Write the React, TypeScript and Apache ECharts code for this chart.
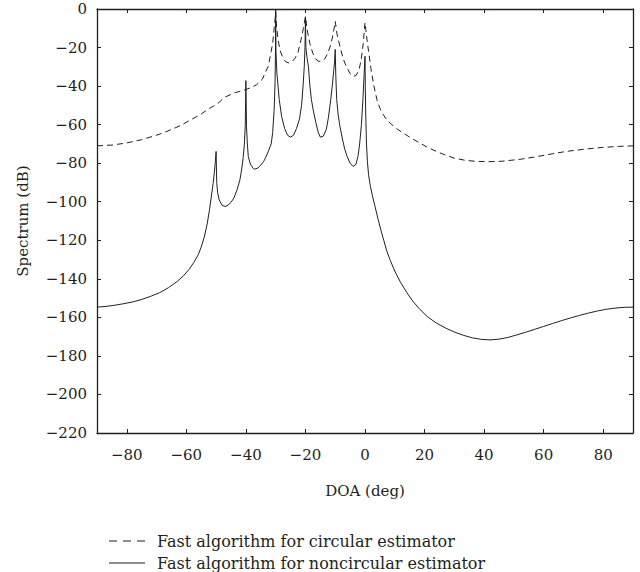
import React, { useEffect, useRef } from "react";
import * as echarts from "echarts";

const ncX = [
  -90, -87, -84, -81, -78, -75, -72, -69, -66, -63, -61, -59, -57.5, -56, -55, -54, -53, -52.2, -51.5, -51, -50.6, -50.3, -50,
  -49.8, -49.5, -49, -48, -47, -46, -45, -44, -43, -42, -41.4, -40.9, -40.5, -40.2, -40,
  -39.8, -39.5, -39.2, -38.5, -37.5, -37, -36, -35, -34, -33.5, -32.5, -31.5, -31, -30.5, -30.2, -30.05, -30,
  -29.9, -29.6, -29.2, -28.8, -28, -27, -26, -25, -24, -23, -22, -21.3, -20.8, -20.4, -20.15, -20,
  -19.85, -19.5, -19, -18.5, -18, -17.4, -16.5, -15.7, -15, -14, -13, -12.3, -11.5, -11, -10.5, -10.2, -10,
  -9.8, -9.5, -9, -8.4, -7.5, -6.8, -6, -5, -4, -3, -2.3, -1.8, -1.2, -0.7, -0.35, 0,
  0.1, 0.25, 0.5, 0.8, 1.2, 1.8, 2.5, 3.3, 4.3, 5.3, 6.3, 7.3, 8.5, 10, 12, 14, 16, 18.5, 21, 24, 27, 30, 33, 36, 39, 42,
  45, 48, 51, 54, 57, 60, 63, 66, 69, 72, 75, 78, 81, 84, 87, 90,
];
const ncY = [
  -154.7, -154.3, -153.7, -152.9, -152, -150.7, -149.1, -147.2, -144.6, -141.3, -138.5, -135, -131.5, -127.5, -123.5, -118.5, -111.5, -104, -96, -90.5, -85, -80, -73.9,
  -90, -95, -99, -101.8, -102.5, -101.8, -100.3, -98, -94, -88.6, -83, -77, -70, -60, -37.2,
  -61, -70, -76.5, -80.5, -82.8, -83.1, -82.5, -81, -79, -77.5, -74, -70, -64, -52, -38, -20, 0,
  -22, -33, -40, -47, -55.7, -62, -65.5, -66.5, -65.5, -62, -57, -50, -40, -30, -20, -4,
  -20, -25, -30, -40, -47, -52.3, -59, -64, -66.5, -66, -62.5, -56.5, -47, -40, -32, -27, -21,
  -35, -47, -55, -61, -68, -72.8, -76.5, -80, -81.7, -80.5, -76, -70, -60, -47, -36, -24.5,
  -40, -55, -70, -79, -86, -92, -97, -102, -108.5, -114.5, -120, -125.5, -130.5, -136, -142, -147, -151.5, -156, -159.7, -163, -165.5, -167.6, -169.3, -170.6, -171.4, -171.7,
  -171.3, -170.4, -169.1, -167.7, -166.2, -164.7, -163.2, -161.7, -160.3, -159, -157.8, -156.7, -155.8, -155.2, -154.8, -154.7,
];

const cX = [
  -90, -85, -80, -75, -70, -66.5, -62, -58.5, -55, -53, -51, -49, -47.5, -46, -44, -42, -40, -38, -36.4, -34.5, -33.5, -32.5, -31.5, -31, -30.5, -30.2, -30,
  -29.7, -29.2, -28.5, -27.5, -26.5, -25.5, -24.5, -23.5, -22.5, -21.5, -20.7, -20,
  -19.4, -18.5, -17.5, -16.5, -15.5, -14.5, -13.5, -12.5, -11.5, -10.7, -10,
  -9.4, -8.4, -7.3, -6.2, -5, -4, -3, -2, -1.3, -0.6, 0,
  0.6, 1.2, 2, 3, 4, 5, 6, 7.3, 9, 11, 13, 15.5, 18.5, 21, 24, 27, 30, 34, 38, 42, 46, 52, 57, 63, 68, 74, 80, 85, 90,
];
const cY = [
  -71, -70.6, -69.5, -67.8, -65.5, -63.5, -60.5, -57.5, -54.5, -52.3, -50.5, -48.5, -46.2, -45, -43.6, -42.7, -41.8, -40.6, -39.3, -36.5, -33, -29.8, -22, -17.5, -10, -5, -1.5,
  -9, -16, -21.5, -25.8, -27.5, -28, -27.3, -25.5, -22.5, -16, -10, -4,
  -11, -18, -23, -26, -27.2, -27, -25.8, -23, -18.5, -13, -6.4,
  -13, -19.5, -26, -30, -33.5, -35, -34.5, -31.5, -26.5, -18, -7,
  -15, -22, -31, -40, -47, -51.5, -54.5, -57.5, -60, -62.5, -64.5, -67, -69.6, -71.8, -73.9, -75.8, -77.4, -78.6, -79.1, -79.2, -79, -78, -76.8, -75.1, -73.8, -72.7, -71.8, -71.3, -71,
];

const seriesNames = [
  "Fast algorithm for circular estimator",
  "Fast algorithm for noncircular estimator",
];

const INK = "#231f20";
const FONT = "DejaVu Serif";
const DASH = [6, 4];

export default function App() {
  const ref = useRef<HTMLDivElement>(null);
  useEffect(() => {
    if (!ref.current) return;
    const chart = echarts.init(ref.current, null, { renderer: "svg" });
    const pairs = (xs: number[], ys: number[]) => xs.map((x, i) => [x, ys[i]]);
    const minus = (v: number) => String(v).replace("-", "\u2212");
    const axisCommon = {
      type: "value" as const,
      axisLine: { show: true, onZero: false, lineStyle: { color: INK, width: 1.3 } },
      axisTick: { show: true, inside: true, length: 4, lineStyle: { color: INK, width: 1 } },
      splitLine: { show: false },
    };
    const legendRows = [541, 563];
    chart.setOption({
      animation: false,
      backgroundColor: "#ffffff",
      grid: { left: 97, right: 7, top: 9, bottom: 139, containLabel: false },
      xAxis: [
        {
          ...axisCommon,
          position: "bottom",
          min: -90,
          max: 90,
          splitNumber: 9,
          name: "DOA (deg)",
          nameLocation: "middle",
          nameGap: 50,
          nameTextStyle: { fontFamily: FONT, fontSize: 15, color: INK },
          axisLabel: {
            show: true,
            margin: 14,
            fontFamily: FONT,
            fontSize: 15,
            color: INK,
            showMinLabel: false,
            showMaxLabel: false,
            formatter: (v: number) => (Math.abs(v) === 90 ? "" : minus(v)),
          },
        },
        {
          ...axisCommon,
          position: "top",
          min: -90,
          max: 90,
          splitNumber: 9,
          axisLabel: { show: false },
        },
      ],
      yAxis: [
        {
          ...axisCommon,
          position: "left",
          min: -220,
          max: 0,
          interval: 20,
          name: "Spectrum (dB)",
          nameLocation: "middle",
          nameRotate: 90,
          nameGap: 67,
          nameTextStyle: { fontFamily: FONT, fontSize: 15, color: INK },
          axisLabel: {
            show: true,
            margin: 10,
            fontFamily: FONT,
            fontSize: 15,
            color: INK,
            formatter: (v: number) => minus(v),
          },
        },
        {
          ...axisCommon,
          position: "right",
          min: -220,
          max: 0,
          interval: 20,
          axisLabel: { show: false },
        },
      ],
      graphic: [
        {
          type: "line",
          shape: { x1: 109, y1: legendRows[0], x2: 145, y2: legendRows[0] },
          style: { stroke: INK, lineWidth: 1, lineDash: [8, 6] },
        },
        {
          type: "text",
          x: 157,
          y: legendRows[0],
          style: {
            text: seriesNames[0],
            fill: INK,
            font: `16px "${FONT}"`,
            verticalAlign: "middle",
            align: "left",
          },
        },
        {
          type: "line",
          shape: { x1: 109, y1: legendRows[1], x2: 145, y2: legendRows[1] },
          style: { stroke: INK, lineWidth: 1 },
        },
        {
          type: "text",
          x: 157,
          y: legendRows[1],
          style: {
            text: seriesNames[1],
            fill: INK,
            font: `16px "${FONT}"`,
            verticalAlign: "middle",
            align: "left",
          },
        },
      ],
      series: [
        {
          name: seriesNames[0],
          type: "line",
          data: pairs(cX, cY),
          symbol: "none",
          showSymbol: false,
          clip: true,
          lineStyle: { color: INK, width: 1, type: DASH },
          itemStyle: { color: INK },
        },
        {
          name: seriesNames[1],
          type: "line",
          data: pairs(ncX, ncY),
          symbol: "none",
          showSymbol: false,
          clip: true,
          lineStyle: { color: INK, width: 1, type: "solid" },
          itemStyle: { color: INK },
        },
      ],
    });
    return () => chart.dispose();
  }, []);
  return (
    <div
      ref={ref}
      style={{ position: "fixed", left: 0, top: 0, width: 640, height: 572, background: "#fff" }}
    />
  );
}
